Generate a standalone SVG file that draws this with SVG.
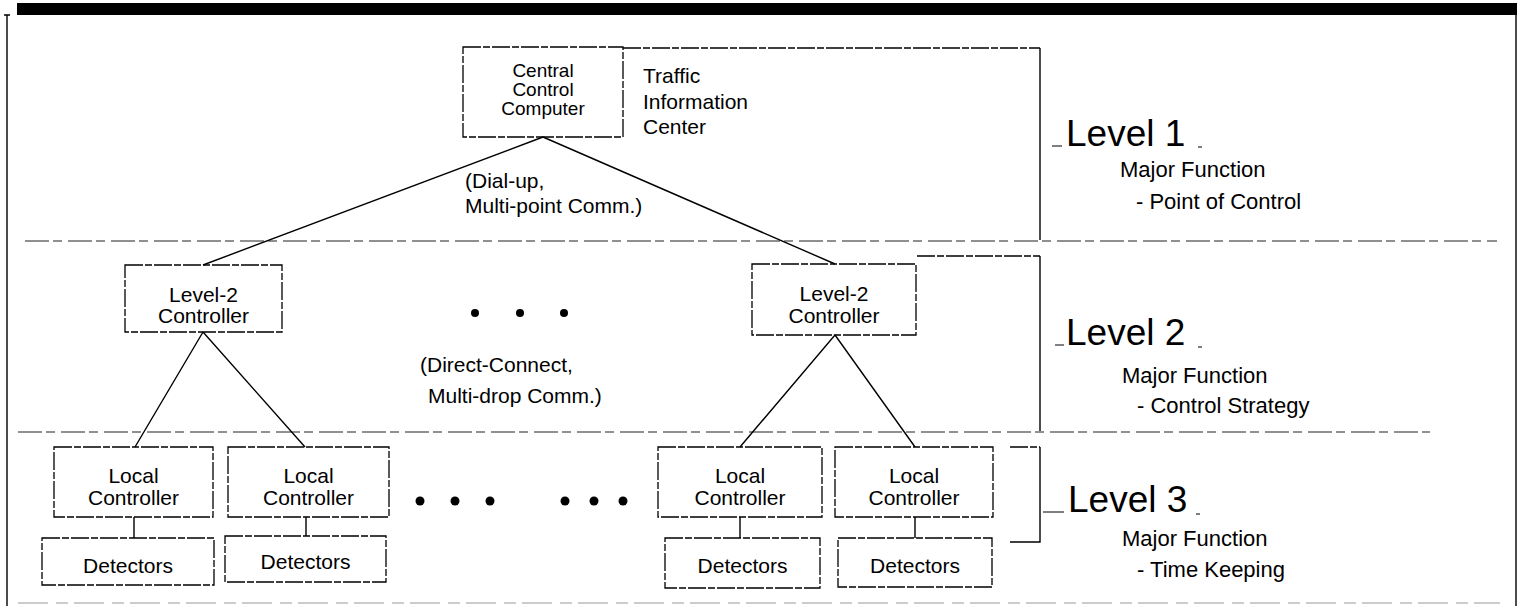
<svg xmlns="http://www.w3.org/2000/svg" width="1517" height="606" viewBox="0 0 1517 606">
<style>
.t{font-family:"Liberation Sans",Arial,Helvetica,sans-serif;fill:#000}
.s{font-size:21px}
.m{font-size:22px}
.lv{font-size:37px}
.box{fill:none;stroke:#000;stroke-width:1.3;stroke-dasharray:18 2 7 2}
.sep{fill:none;stroke:#222;stroke-width:1.1;stroke-dasharray:24 4 9 6}
.ln{fill:none;stroke:#000;stroke-width:1.4}
.tick{fill:none;stroke:#000;stroke-width:1}
.dot{fill:#000}
</style>
<g id="frame">
<rect x="17" y="3" width="1500" height="12" fill="#000"/>
<path class="ln" d="M7,15 V606 M4,15 H10 M1516,15 V606"/>
<path d="M18,603 H1500" stroke="#999" stroke-width="1" stroke-dasharray="30 8 12 6" fill="none"/>
</g>
<g id="separators">
<path class="sep" d="M25,241 H1497"/>
<path class="sep" d="M18,432 H1430"/>
</g>
<g id="brackets">
<path class="box" d="M623,48 H1040"/>
<path class="ln" d="M1040,48 V240"/>
<path class="box" d="M917,256 H1040"/>
<path class="ln" d="M1040,256 V431"/>
<path class="box" d="M1010,447 H1040"/>
<path class="ln" d="M1040,447 V542 H1010"/>
</g>
<g id="central">
<rect class="box" x="463" y="47" width="160" height="90"/>
<text class="t" style="font-size:19px" text-anchor="middle"><tspan x="543" y="77">Central</tspan><tspan x="543" y="96">Control</tspan><tspan x="543" y="115">Computer</tspan></text>
</g>
<g id="tic">
<text class="t s"><tspan x="643" y="83">Traffic</tspan><tspan x="643" y="109">Information</tspan><tspan x="643" y="134">Center</tspan></text>
</g>
<g id="connectors">
<path class="ln" d="M543,137 L203,265 M543,137 L835,264"/>
<path class="ln" d="M203,332 L135,447 M203,332 L305,447 M835,335 L740,447 M835,335 L915,447"/>
<path class="ln" d="M134,517 V538 M306,517 V536 M740,517 V538 M915,517 V538"/>
</g>
<g id="comm1">
<text class="t s"><tspan x="465" y="188">(Dial-up,</tspan><tspan x="465" y="213">Multi-point Comm.)</tspan></text>
</g>
<g id="l2left">
<rect class="box" x="125" y="265" width="157" height="67"/>
<text class="t s" text-anchor="middle"><tspan x="203.5" y="302">Level-2</tspan><tspan x="203.5" y="323">Controller</tspan></text>
</g>
<g id="l2right">
<rect class="box" x="752" y="264" width="164" height="71"/>
<text class="t s" text-anchor="middle"><tspan x="834" y="301">Level-2</tspan><tspan x="834" y="323">Controller</tspan></text>
</g>
<g id="dots2">
<circle class="dot" cx="475" cy="313" r="4"/>
<circle class="dot" cx="520" cy="313" r="4"/>
<circle class="dot" cx="564" cy="313" r="4"/>
</g>
<g id="comm2">
<text class="t s"><tspan x="420" y="372">(Direct-Connect,</tspan><tspan x="428" y="403">Multi-drop Comm.)</tspan></text>
</g>
<g id="local1">
<rect class="box" x="54" y="447" width="159" height="70"/>
<text class="t s" text-anchor="middle"><tspan x="133.5" y="483">Local</tspan><tspan x="133.5" y="505">Controller</tspan></text>
</g>
<g id="local2">
<rect class="box" x="228" y="447" width="161" height="70"/>
<text class="t s" text-anchor="middle"><tspan x="308.5" y="483">Local</tspan><tspan x="308.5" y="505">Controller</tspan></text>
</g>
<g id="local3">
<rect class="box" x="658" y="447" width="164" height="70"/>
<text class="t s" text-anchor="middle"><tspan x="740" y="483">Local</tspan><tspan x="740" y="505">Controller</tspan></text>
</g>
<g id="local4">
<rect class="box" x="835" y="447" width="158" height="70"/>
<text class="t s" text-anchor="middle"><tspan x="914" y="483">Local</tspan><tspan x="914" y="505">Controller</tspan></text>
</g>
<g id="det1">
<rect class="box" x="42" y="538" width="172" height="47"/>
<text class="t s" text-anchor="middle" x="128" y="573">Detectors</text>
</g>
<g id="det2">
<rect class="box" x="225" y="536" width="161" height="46"/>
<text class="t s" text-anchor="middle" x="305.5" y="569">Detectors</text>
</g>
<g id="det3">
<rect class="box" x="665" y="538" width="155" height="50"/>
<text class="t s" text-anchor="middle" x="742.5" y="573">Detectors</text>
</g>
<g id="det4">
<rect class="box" x="838" y="538" width="154" height="49"/>
<text class="t s" text-anchor="middle" x="915" y="573">Detectors</text>
</g>
<g id="dots3">
<circle class="dot" cx="420" cy="501" r="4.5"/>
<circle class="dot" cx="455" cy="501" r="4.5"/>
<circle class="dot" cx="490" cy="501" r="4.5"/>
<circle class="dot" cx="565" cy="501" r="4.5"/>
<circle class="dot" cx="594" cy="501" r="4.5"/>
<circle class="dot" cx="623" cy="501" r="4.5"/>
</g>
<g id="level1">
<path class="tick" d="M1052,146 H1062 M1198,147 H1202"/>
<text class="t lv" x="1066" y="146">Level 1</text>
<text class="t m" x="1120" y="177">Major Function</text>
<text class="t m" x="1136" y="209">- Point of Control</text>
</g>
<g id="level2">
<path class="tick" d="M1055,345 H1064 M1198,347 H1202"/>
<text class="t lv" x="1066" y="345">Level 2</text>
<text class="t m" x="1122" y="383">Major Function</text>
<text class="t m" x="1137" y="413">- Control Strategy</text>
</g>
<g id="level3">
<path class="tick" d="M1043,512 H1064 M1196,514 H1200"/>
<text class="t lv" x="1068" y="512">Level 3</text>
<text class="t m" x="1122" y="546">Major Function</text>
<text class="t m" x="1137" y="577">- Time Keeping</text>
</g>
</svg>
